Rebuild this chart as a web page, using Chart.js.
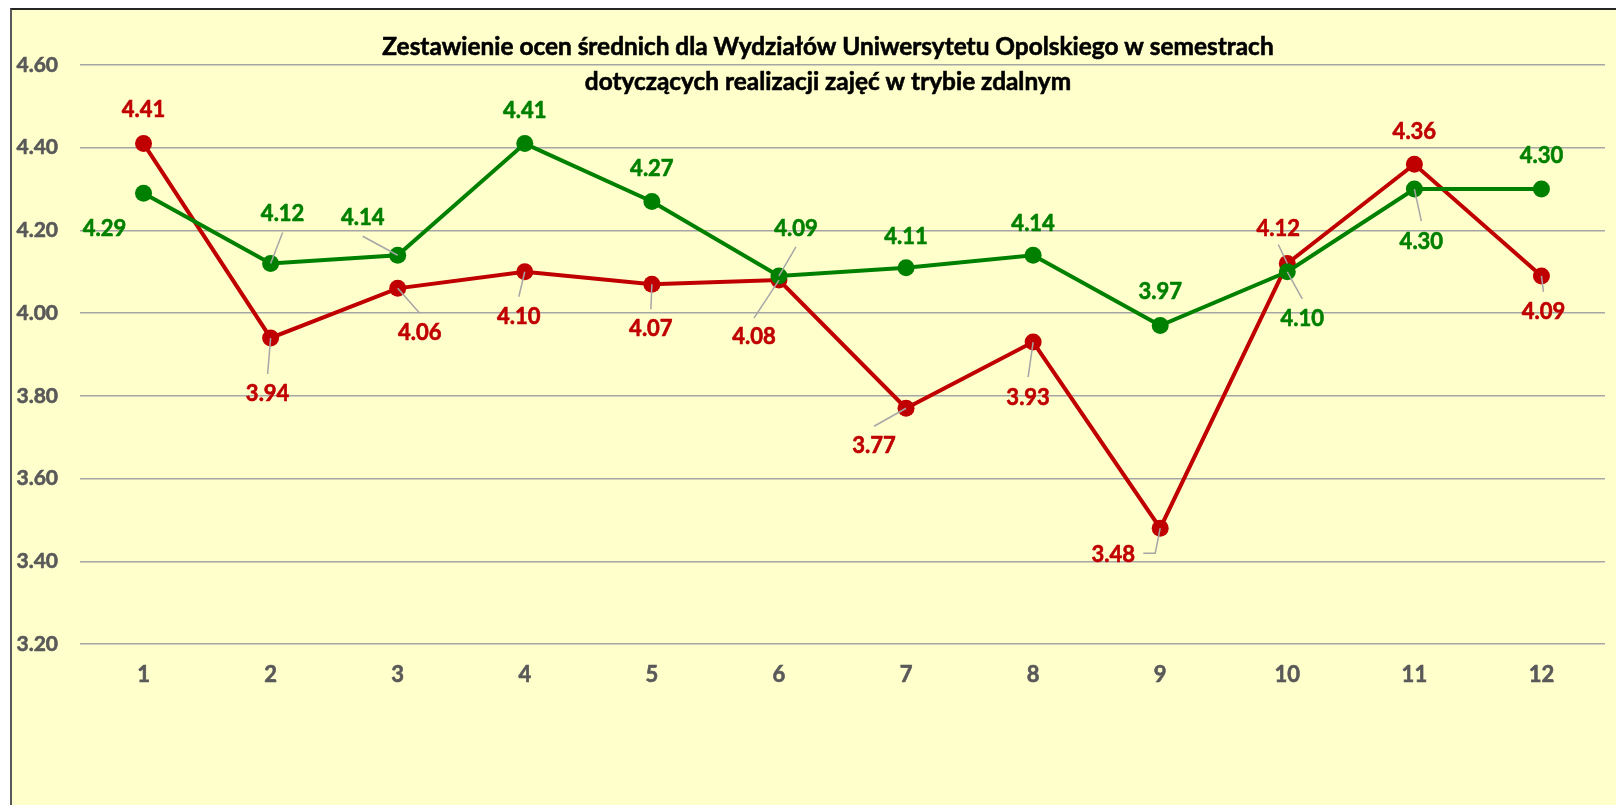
<!DOCTYPE html>
<html>
<head>
<meta charset="utf-8">
<script src="https://cdn.jsdelivr.net/npm/chart.js@4"></script>
<style>
  html, body { margin: 0; padding: 0; background: #fff; }
  #wrap { position: relative; width: 1616px; height: 805px; overflow: hidden; }
  #box { position: absolute; left: 10px; top: 8px; width: 1620px; height: 820px;
         background: #FFFFCC; border-left: 2px solid #595959; border-top: 2px solid #262626; }
  canvas { position: absolute; left: 0; top: 0; }
</style>
</head>
<body>
<div id="wrap">
  <div id="box"></div>
  <canvas id="chart" width="1616" height="805"></canvas>
</div>
<script>
// Semestry (oś X)
const semesters = ['1', '2', '3', '4', '5', '6', '7', '8', '9', '10', '11', '12'];

// Średnie oceny - seria czerwona i zielona
const redValues = [4.41, 3.94, 4.06, 4.10, 4.07, 4.08, 3.77, 3.93, 3.48, 4.12, 4.36, 4.09];
const greenValues = [4.29, 4.12, 4.14, 4.41, 4.27, 4.09, 4.11, 4.14, 3.97, 4.10, 4.30, 4.30];

// Oś Y
const yMin = 3.2;
const yMax = 4.6;
const yStep = 0.2;

const titleLines = [
    'Zestawienie ocen średnich dla Wydziałów Uniwersytetu Opolskiego w semestrach',
    'dotyczących realizacji zajęć w trybie zdalnym'
];

const RED = '#C00000';
const GREEN = '#008000';
const FONT = 'Lato, "Open Sans", sans-serif';

// Label placement relative to the point: [dx, dy, leader points]
const redPlacement = [
    [0, -34, null],
    [-3, 56, [[-3, 36]]],
    [22, 45, [[22, 25]]],
    [-6, 45, [[-6, 25]]],
    [-1, 45, [[-1, 25]]],
    [-25, 57, [[-25, 38]]],
    [-32, 38, [[-32, 18]]],
    [-5, 56, [[-5, 35]]],
    [-47, 27, [[-5, 25], [-17, 25]]],
    [-9, -35, [[-9, -19]]],
    [0, -32, null],
    [2, 36, [[2, 16]]]
];
const greenPlacement = [
    [-39, 36, null],
    [12, -50, [[12, -31]]],
    [-35, -37, [[-35, -19]]],
    [0, -33, null],
    [0, -33, null],
    [17, -47, [[17, -29]]],
    [0, -31, null],
    [0, -31, null],
    [0, -34, null],
    [15, 47, [[15, 27]]],
    [7, 53, [[7, 32]]],
    [0, -33, null]
];

// fill + thin stroke, to get closer to the heavy Calibri bold
function heavyText(ctx, txt, x, y, color) {
    ctx.fillStyle = color;
    ctx.strokeStyle = color;
    ctx.lineWidth = 0.6;
    ctx.fillText(txt, x, y);
    ctx.strokeText(txt, x, y);
}

// Data labels with leader lines
const valueLabels = {
    id: 'valueLabels',
    afterDatasetsDraw(chart) {
        const ctx = chart.ctx;
        const sets = [
            { meta: chart.getDatasetMeta(1), values: redValues, place: redPlacement, color: RED },
            { meta: chart.getDatasetMeta(0), values: greenValues, place: greenPlacement, color: GREEN }
        ];
        ctx.save();
        // leaders
        ctx.strokeStyle = '#A6A6A6';
        ctx.lineWidth = 1.5;
        sets.forEach(s => {
            s.meta.data.forEach((pt, i) => {
                const lead = s.place[i][2];
                if (!lead) return;
                ctx.beginPath();
                ctx.moveTo(pt.x, pt.y);
                lead.forEach(p => ctx.lineTo(pt.x + p[0], pt.y + p[1]));
                ctx.stroke();
            });
        });
        // texts
        ctx.font = 'bold 22px ' + FONT;
        ctx.textAlign = 'center';
        ctx.textBaseline = 'middle';
        sets.forEach(s => {
            s.meta.data.forEach((pt, i) => {
                const p = s.place[i];
                heavyText(ctx, s.values[i].toFixed(2), pt.x + p[0], pt.y + p[1], s.color);
            });
        });
        ctx.restore();
    }
};

// Title drawn over the plot area (as in the original)
const chartTitle = {
    id: 'chartTitle',
    afterDraw(chart) {
        const ctx = chart.ctx;
        ctx.save();
        ctx.font = 'bold 24.4px ' + FONT;
        ctx.textAlign = 'center';
        ctx.textBaseline = 'middle';
        heavyText(ctx, titleLines[0], 828, 47, '#000');
        heavyText(ctx, titleLines[1], 828, 82, '#000');
        ctx.restore();
    }
};

new Chart(document.getElementById('chart'), {
    type: 'line',
    data: {
        labels: semesters,
        datasets: [
            {
                label: 'Seria zielona',
                data: greenValues,
                borderColor: GREEN,
                backgroundColor: GREEN,
                borderWidth: 4,
                pointRadius: 8.5,
                pointHoverRadius: 8.5,
                pointBorderWidth: 0,
                tension: 0
            },
            {
                label: 'Seria czerwona',
                data: redValues,
                borderColor: RED,
                backgroundColor: RED,
                borderWidth: 4,
                pointRadius: 8.5,
                pointHoverRadius: 8.5,
                pointBorderWidth: 0,
                tension: 0
            }
        ]
    },
    options: {
        responsive: false,
        animation: false,
        layout: { padding: { top: 65, right: 11, left: 0, bottom: 0 } },
        plugins: {
            legend: { display: false },
            title: { display: false },
            tooltip: { enabled: false }
        },
        scales: {
            x: {
                offset: true,
                grid: { display: false, drawTicks: false },
                border: { display: false },
                ticks: {
                    color: '#595959',
                    font: { family: FONT, size: 22, weight: 'bold' },
                    textStrokeColor: '#595959',
                    textStrokeWidth: 0.6,
                    padding: 18
                },
                afterFit(scale) { scale.height = 161; }
            },
            y: {
                min: yMin,
                max: yMax,
                ticks: {
                    stepSize: yStep,
                    color: '#595959',
                    font: { family: FONT, size: 21, weight: 'bold' },
                    textStrokeColor: '#595959',
                    textStrokeWidth: 0.6,
                    padding: 22,
                    callback: v => Number(v).toFixed(2)
                },
                grid: { color: '#A6A6A6', lineWidth: 1.5, drawTicks: false },
                border: { display: false },
                afterFit(scale) { scale.width = 80; }
            }
        }
    },
    plugins: [valueLabels, chartTitle]
});
</script>
</body>
</html>
